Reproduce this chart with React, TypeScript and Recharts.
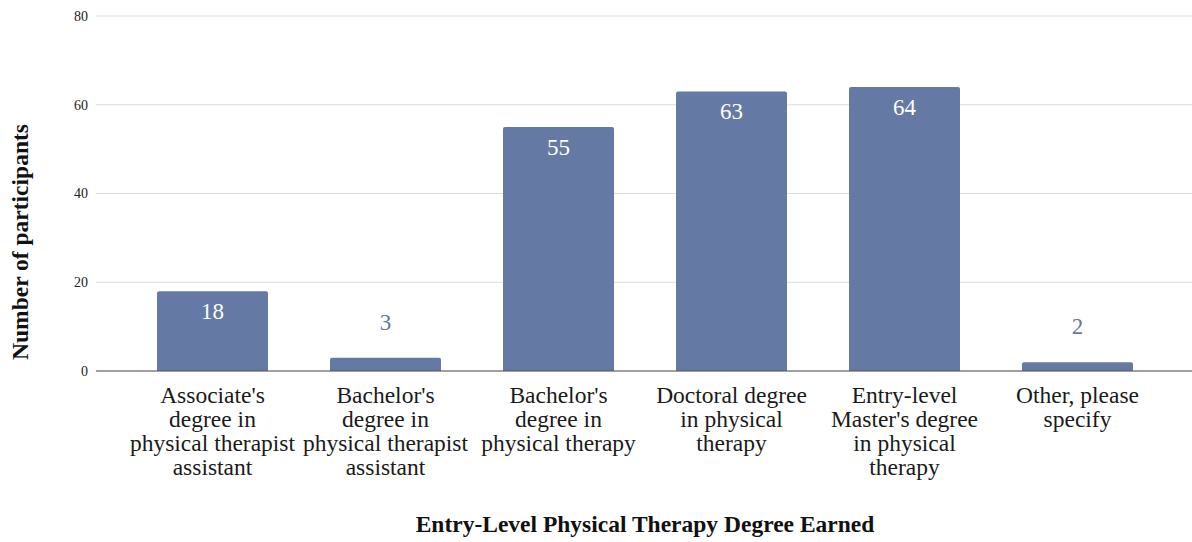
import { BarChart, Bar, XAxis, YAxis, CartesianGrid, LabelList } from 'recharts'

const categories = [
  "Associate's\ndegree in\nphysical therapist\nassistant",
  "Bachelor's\ndegree in\nphysical therapist\nassistant",
  "Bachelor's\ndegree in\nphysical therapy",
  'Doctoral degree\nin physical\ntherapy',
  "Entry-level\nMaster's degree\nin physical\ntherapy",
  'Other, please\nspecify',
]
const participants = [18, 3, 55, 63, 64, 2]
const yTicks = [0, 20, 40, 60, 80]

const BAR = '#6479a4'
const SERIF = '"Liberation Serif", "Times New Roman", serif'

const data = categories.map((name, i) => ({ name, value: participants[i] }))

function CategoryTick({ x, y, payload }: any) {
  const lines = String(payload.value).split('\n')
  return (
    <text x={x} y={y} textAnchor="middle" fontFamily={SERIF} fontSize={23.5} fill="#1a1a1a">
      {lines.map((l, i) => (
        <tspan key={i} x={x} dy={i === 0 ? 32 : 24}>
          {l}
        </tspan>
      ))}
    </text>
  )
}

function ValueLabel({ x, y, width, value }: any) {
  const inside = value >= 10
  return (
    <text
      x={x + width / 2}
      y={inside ? y + 28 : y - 28}
      textAnchor="middle"
      fontFamily={SERIF}
      fontSize={23}
      fill={inside ? '#ffffff' : BAR}
    >
      {value}
    </text>
  )
}

export default function App() {
  return (
    <div style={{ width: 1192, height: 542, background: '#fff' }}>
      <style>{`body{margin:0}`}</style>
      <BarChart
        width={1192}
        height={542}
        data={data}
        margin={{ top: 16, right: 0, left: 0, bottom: 0 }}
        barSize={111}
      >
        <CartesianGrid vertical={false} stroke="#dcdcdc" />
        <XAxis
          dataKey="name"
          height={171}
          interval={0}
          tickLine={false}
          tickMargin={0}
          tickSize={0}
          stroke="#555"
          padding={{ left: 30, right: 28 }}
          tick={<CategoryTick />}
          label={{
            content: () => (
              <text
                x={645}
                y={532}
                textAnchor="middle"
                fontFamily={SERIF}
                fontSize={23.5}
                fontWeight="bold"
                fill="#111"
              >
                Entry-Level Physical Therapy Degree Earned
              </text>
            ),
          }}
        />
        <YAxis
          width={96}
          domain={[0, 80]}
          ticks={yTicks}
          axisLine={false}
          tickLine={false}
          tickMargin={2}
          tick={{ fontFamily: SERIF, fontSize: 14, fill: '#222' }}
          label={{
            content: () => (
              <text
                x={28}
                y={242}
                textAnchor="middle"
                transform="rotate(-90 28 242)"
                fontFamily={SERIF}
                fontSize={23.5}
                fontWeight="bold"
                fill="#111"
              >
                Number of participants
              </text>
            ),
          }}
        />
        <Bar dataKey="value" fill={BAR} radius={[2, 2, 0, 0]} isAnimationActive={false}>
          <LabelList dataKey="value" content={<ValueLabel />} />
        </Bar>
      </BarChart>
    </div>
  )
}
